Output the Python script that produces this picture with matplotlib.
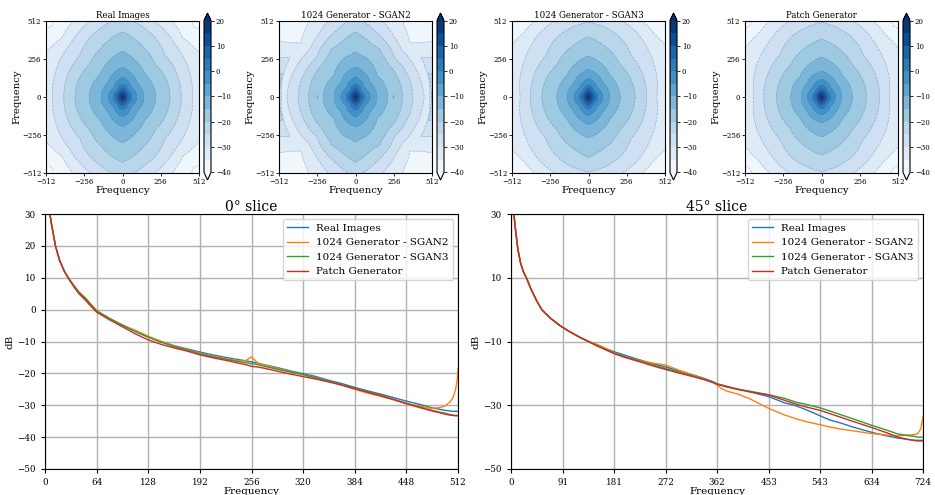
import matplotlib
matplotlib.use("Agg")
import matplotlib.pyplot as plt
import numpy as np

plt.rcParams["font.family"] = ["DejaVu Serif"]

names = ["Real Images", "1024 Generator - SGAN2", "1024 Generator - SGAN3", "Patch Generator"]
colors = ["tab:blue", "tab:orange", "tab:green", "tab:red"]

# 0 degree slice (frequency 0..512)
x0 = [1, 3, 6, 9, 13, 18, 24, 30, 36, 42, 50, 56, 64, 80, 96, 112, 128, 144, 160, 176,
      192, 208, 224, 240, 248, 252, 256, 260, 264, 272, 288, 304, 320, 336, 352, 368,
      384, 400, 416, 432, 448, 464, 480, 490, 496, 502, 506, 509, 511, 512]
real_0 = [42, 36, 30, 25.5, 20, 15.5, 12, 9.5, 7.3, 5.2, 3.2, 1.6, -0.5, -2.8, -4.9, -6.8,
          -8.5, -10.0, -11.3, -12.3, -13.3, -14.2, -15.0, -15.7, -16.0, -16.2, -16.4, -16.6,
          -16.8, -17.3, -18.2, -19.2, -20.1, -21.0, -22.2, -23.2, -24.4, -25.5, -26.5, -27.6,
          -28.7, -29.7, -30.8, -31.3, -31.6, -31.8, -31.9, -31.9, -31.9, -31.9]
sgan2_0 = [42, 36, 30, 25.5, 20, 15.5, 12, 9.6, 7.5, 5.6, 3.7, 2.0, -0.3, -2.7, -4.8, -6.5,
           -8.3, -10.0, -11.4, -12.5, -13.6, -14.6, -15.4, -16.0, -16.1, -15.5, -14.8, -15.8,
           -16.8, -17.4, -18.4, -19.4, -20.4, -21.4, -22.5, -23.7, -25.0, -26.2, -27.2, -28.3,
           -29.5, -30.2, -31.0, -30.7, -30.2, -29.0, -27.5, -25.0, -22.0, -18.5]
sgan3_0 = [42, 36, 30, 25.5, 20, 15.5, 12, 9.6, 7.5, 5.5, 3.6, 1.9, -0.4, -2.8, -4.9, -6.9,
           -8.7, -10.2, -11.6, -12.7, -13.8, -14.8, -15.6, -16.3, -16.6, -16.8, -17.0, -17.1,
           -17.3, -17.8, -18.7, -19.6, -20.4, -21.5, -22.5, -23.6, -24.7, -25.8, -26.9, -28.1,
           -29.4, -30.5, -31.6, -32.2, -32.5, -32.9, -33.1, -33.2, -33.2, -33.2]
patch_0 = [42, 36, 30, 25.5, 20, 15.5, 12, 9.4, 7.1, 5.0, 3.0, 1.3, -0.8, -3.2, -5.4, -7.6,
           -9.5, -10.9, -12.0, -13.0, -14.2, -15.1, -15.9, -16.8, -17.2, -17.5, -17.8, -17.9,
           -18.0, -18.4, -19.3, -20.2, -21.0, -21.8, -22.7, -23.7, -24.8, -25.9, -27.0, -28.2,
           -29.5, -30.7, -31.8, -32.4, -32.8, -33.1, -33.2, -33.3, -33.3, -33.3]

# 45 degree slice (frequency 0..724)
x45 = [1, 3, 5, 8, 12, 17, 22, 27, 35, 45, 54, 70, 86, 100, 120, 136, 150, 160, 181, 200,
       227, 250, 272, 295, 317, 340, 355, 362, 370, 380, 400, 420, 453, 480, 500, 520, 543,
       560, 580, 600, 634, 660, 680, 700, 710, 715, 720, 724]
start_45 = [45, 36, 30, 25, 19, 14.5, 11.8, 10, 6.5, 2.8, 0, -2.8, -5.0, -6.6, -8.6, -10.0]
real_45 = start_45 + [-11.0, -11.8, -13.2, -14.3, -15.8, -17.0, -18.0, -19.2, -20.3, -21.6,
                      -22.6, -23.3, -23.6, -24.1, -25.0, -25.8, -27.3, -29.2, -30.1, -31.5,
                      -33.3, -34.6, -35.6, -36.8, -38.5, -39.6, -40.3, -40.8, -41.0, -41.0,
                      -41.0, -41.0]
sgan2_45 = start_45 + [-10.8, -11.6, -13.5, -14.8, -16.0, -16.8, -17.4, -19.0, -20.4, -21.8,
                       -22.8, -23.6, -24.8, -25.6, -26.6, -28.0, -31.0, -33.0, -34.2, -35.2,
                       -36.1, -36.8, -37.5, -38.0, -38.9, -39.3, -39.6, -39.3, -39.2, -38.8,
                       -37.5, -33.5]
sgan3_45 = start_45 + [-11.2, -12.0, -13.6, -14.8, -16.2, -17.4, -18.5, -19.6, -20.7, -21.9,
                       -22.8, -23.3, -23.7, -24.2, -25.0, -25.6, -26.7, -27.8, -29.0, -29.8,
                       -30.8, -31.8, -33.0, -34.2, -36.3, -37.8, -39.0, -39.6, -39.8, -40.0,
                       -40.0, -40.0]
patch_45 = start_45 + [-11.3, -12.1, -13.8, -15.0, -16.4, -17.7, -18.8, -19.9, -20.9, -22.0,
                       -22.9, -23.4, -23.8, -24.3, -25.1, -25.8, -26.8, -28.4, -29.6, -30.6,
                       -31.6, -32.6, -33.8, -35.0, -37.0, -38.6, -40.0, -40.8, -41.1, -41.2,
                       -41.2, -41.2]

slices_0 = [real_0, sgan2_0, sgan3_0, patch_0]
slices_45 = [real_45, sgan2_45, sgan3_45, patch_45]
# vertical spectra decay slower than horizontal ones
vert_stretch = [1.38, 1.40, 1.30, 1.30]

levels = np.arange(-40, 21, 5)
ticks_2d = [-512, -256, 0, 256, 512]
ticks_0 = [0, 64, 128, 192, 256, 320, 384, 448, 512]
ticks_45 = [0, 91, 181, 272, 362, 453, 543, 634, 724]

W, H = 935, 495
fig = plt.figure(figsize=(W / 100, H / 100), dpi=100)


def box(x0p, y0p, x1p, y1p):
    return [x0p / W, 1 - y1p / H, (x1p - x0p) / W, (y1p - y0p) / H]


g = np.linspace(-512, 512, 257)
X, Y = np.meshgrid(g, g)
R = np.hypot(X, Y)
th = np.arctan2(np.abs(Y), np.abs(X))
w = th / (np.pi / 4)

for i in range(4):
    left = 46 + 233 * i
    ax = fig.add_axes(box(left, 21, left + 153, 173))
    p0 = np.interp(R, x0, slices_0[i])
    p90 = np.interp(R / vert_stretch[i], x0, slices_0[i])
    p45 = np.interp(R, x45, slices_45[i])
    Z = np.where(th <= np.pi / 4, (1 - w) * p0 + w * p45, (2 - w) * p45 + (w - 1) * p90)
    cs = ax.contourf(X, Y, Z, levels=levels, cmap="Blues", extend="both")
    ax.contour(X, Y, Z, levels=levels, colors="#6b6b9e", linewidths=0.5, alpha=0.4)
    ax.set_xticks(ticks_2d)
    ax.set_yticks(ticks_2d)
    ax.tick_params(labelsize=5, length=2, width=0.6, pad=1.5)
    ax.set_title(names[i], fontsize=6.2, pad=2)
    ax.set_xlabel("Frequency", fontsize=7.3, labelpad=0)
    ax.set_ylabel("Frequency", fontsize=7.3, labelpad=0)
    cax = fig.add_axes(box(left + 158, 13, left + 165, 180))
    cb = fig.colorbar(cs, cax=cax, ticks=np.arange(-40, 21, 10))
    cb.ax.tick_params(labelsize=5, length=2, width=0.6, pad=1.5)

panels = [(45, 458, x0, slices_0, 512, ticks_0, np.arange(-50, 31, 10), "0° slice"),
          (511, 923, x45, slices_45, 724, ticks_45, np.arange(-50, 31, 20), "45° slice")]
for left, right, xs, series, xmax, xt, yt, title in panels:
    ax = fig.add_axes(box(left, 214, right, 469))
    for s, name, c in zip(series, names, colors):
        ax.plot(xs, s, color=c, linewidth=1.0, label=name)
    ax.set_xlim(0, xmax)
    ax.set_ylim(-50, 30)
    ax.set_xticks(xt)
    ax.set_yticks(yt)
    ax.grid(True, color="#b0b0b0", linewidth=1.0)
    ax.tick_params(labelsize=6.3, length=3)
    ax.set_title(title, fontsize=10, pad=2)
    ax.set_xlabel("Frequency", fontsize=7.5, labelpad=0)
    ax.set_ylabel("dB", fontsize=7.5, labelpad=2)
    ax.legend(loc="upper right", fontsize=7.5)

fig.savefig("out.png", dpi=100)
